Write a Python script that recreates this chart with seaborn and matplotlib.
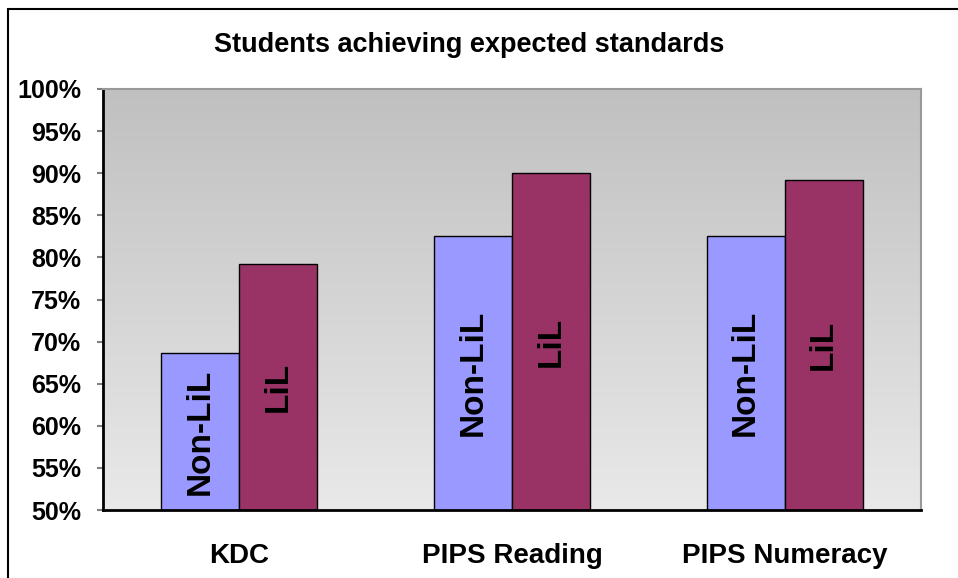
import numpy as np
import pandas as pd
import matplotlib
matplotlib.use("Agg")
import matplotlib.pyplot as plt
from matplotlib.patches import Rectangle
import seaborn as sns

categories = ["KDC", "PIPS Reading", "PIPS Numeracy"]
groups = ["Non-LiL", "LiL"]
non_lil = [68.6, 82.6, 82.5]
lil = [79.2, 90.0, 89.2]
y_ticks = [50, 55, 60, 65, 70, 75, 80, 85, 90, 95, 100]
title = "Students achieving expected standards"

df = pd.DataFrame({
    "category": categories * 2,
    "group": [groups[0]] * 3 + [groups[1]] * 3,
    "value": non_lil + lil,
})

sns.set_theme(style="white")
plt.rcParams["font.family"] = ["Liberation Sans", "DejaVu Sans"]
plt.rcParams["text.color"] = "black"
plt.rcParams["xtick.labelcolor"] = "black"
plt.rcParams["ytick.labelcolor"] = "black"

fig = plt.figure(figsize=(9.58, 5.78), dpi=100)
fig.patch.set_facecolor("white")
ax = fig.add_axes([103 / 958, 1 - 510 / 578, (921 - 103) / 958, (510 - 89) / 578])

# gradient background
grad = np.linspace(0, 1, 256).reshape(-1, 1)
ax.imshow(grad, extent=[-0.5, 2.5, 50, 100], aspect="auto", origin="upper",
          cmap=matplotlib.colors.LinearSegmentedColormap.from_list("g", ["#c0c0c0", "#e9e9e9"]),
          zorder=0)

sns.barplot(data=df, x="category", y="value", hue="group", order=categories,
            hue_order=groups, palette=["#9999ff", "#993366"], saturation=1,
            width=0.572, gap=0, edgecolor="black", linewidth=1.0, legend=False,
            ax=ax, zorder=2)

for container, lab in zip(ax.containers, groups):
    for bar in container:
        cx = bar.get_x() + bar.get_width() / 2
        top = bar.get_y() + bar.get_height()
        ax.text(cx, (50 + top) / 2, lab, rotation=90, ha="center", va="center",
                fontsize=24, fontweight="bold", color="black", zorder=3)

ax.set_xlim(-0.5, 2.5)
ax.set_ylim(50, 100)
ax.set_yticks(y_ticks)
ax.set_yticklabels([f"{t}%" for t in y_ticks], fontsize=18, fontweight="bold", color="black")
ax.set_xticks(range(3))
ax.set_xticklabels(categories, fontsize=20, fontweight="bold", color="black")
ax.set_xticks([-0.5, 0.5, 1.5, 2.5], minor=True)
ax.tick_params(axis="x", which="major", length=0, pad=24)
ax.tick_params(axis="x", which="minor", length=5, width=1.5, color="#808080", direction="out")
ax.tick_params(axis="y", which="major", length=4.5, width=1.5, color="#808080",
               direction="out", pad=11, left=True)
ax.set_xlabel("")
ax.set_ylabel("")

for s in ["left", "bottom"]:
    ax.spines[s].set_color("black")
    ax.spines[s].set_linewidth(2)
    ax.spines[s].set_visible(True)
for s in ["top", "right"]:
    ax.spines[s].set_color("#999999")
    ax.spines[s].set_linewidth(1.5)
    ax.spines[s].set_visible(True)

fig.text(469 / 958, 1 - 45 / 578, title, ha="center", va="center",
         fontsize=19.5, fontweight="bold", color="black")

# outer chart border (top and left visible)
fig.patches.append(Rectangle((8 / 958, -0.2), 1.2, 1.2 - 9 / 578, transform=fig.transFigure,
                             fill=False, edgecolor="black", linewidth=1.5, zorder=10))

fig.savefig("out.png", dpi=100)
